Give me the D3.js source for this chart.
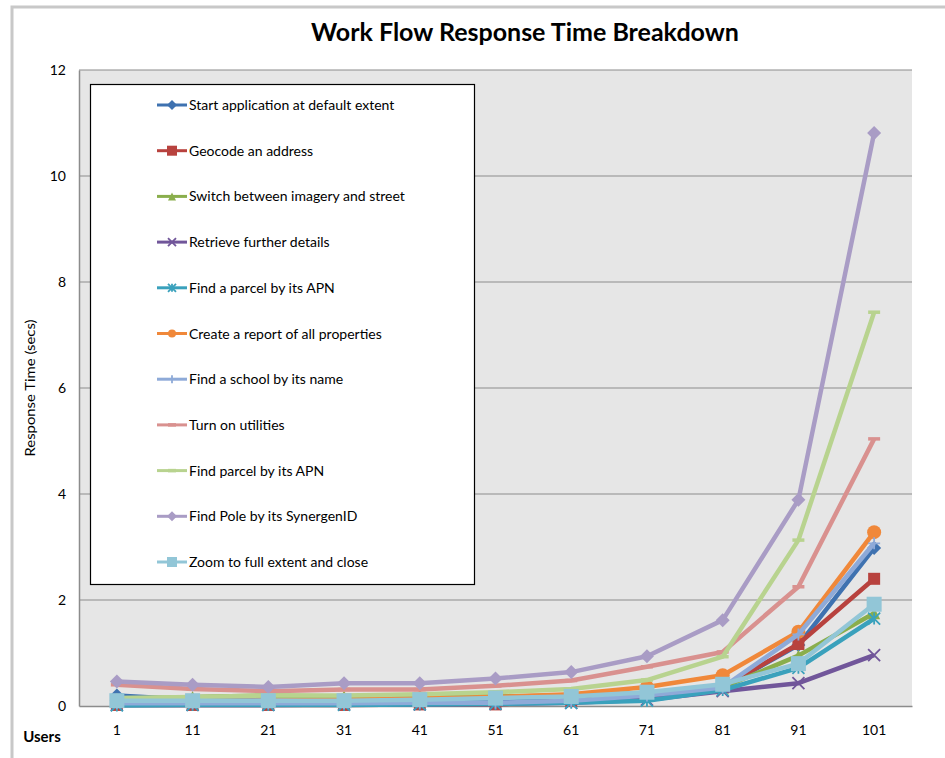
<!DOCTYPE html>
<html><head><meta charset="utf-8">
<script src="https://cdn.jsdelivr.net/npm/d3@7"></script>
<style>body{margin:0;background:#fff;} text{font-family:Lato,"Open Sans",sans-serif;}</style>
</head><body>
<svg id="chart" width="945" height="758"></svg>
<script>
const users = ["1","11","21","31","41","51","61","71","81","91","101"];
const seriesNames = [
  "Start application at default extent",
  "Geocode an address",
  "Switch between imagery and street",
  "Retrieve further details",
  "Find a parcel by its APN",
  "Create a report of all properties",
  "Find a school by its name",
  "Turn on utilities",
  "Find parcel by its APN",
  "Find Pole by its SynergenID",
  "Zoom to full extent and close"
];
const startApp   = [0.20, 0.12, 0.10, 0.09, 0.09, 0.08, 0.12, 0.20, 0.35, 1.15, 2.98];
const geocode    = [0.02, 0.02, 0.02, 0.02, 0.03, 0.03, 0.10, 0.20, 0.35, 1.17, 2.40];
const switchImg  = [0.13, 0.17, 0.20, 0.18, 0.20, 0.18, 0.20, 0.25, 0.35, 0.95, 1.75];
const retrieve   = [0.02, 0.02, 0.02, 0.03, 0.03, 0.04, 0.06, 0.12, 0.28, 0.43, 0.96];
const parcelAPN  = [0.01, 0.02, 0.02, 0.02, 0.03, 0.04, 0.06, 0.10, 0.30, 0.72, 1.65];
const report     = [0.10, 0.10, 0.10, 0.12, 0.14, 0.17, 0.22, 0.36, 0.58, 1.40, 3.28];
const school     = [0.05, 0.05, 0.05, 0.05, 0.06, 0.06, 0.10, 0.20, 0.35, 1.35, 3.07];
const utilities  = [0.40, 0.32, 0.28, 0.31, 0.31, 0.38, 0.48, 0.74, 1.02, 2.25, 5.04];
const parcelAPN2 = [0.15, 0.17, 0.20, 0.20, 0.22, 0.26, 0.32, 0.49, 0.93, 3.13, 7.43];
const pole       = [0.46, 0.40, 0.36, 0.43, 0.43, 0.52, 0.64, 0.94, 1.62, 3.89, 10.81];
const zoomFull   = [0.10, 0.10, 0.10, 0.10, 0.12, 0.15, 0.18, 0.26, 0.41, 0.80, 1.92];
const yTicks = [0, 2, 4, 6, 8, 10, 12];

const allValues = [startApp, geocode, switchImg, retrieve, parcelAPN, report, school, utilities, parcelAPN2, pole, zoomFull];
const colors = ["#3f72b0","#b8423e","#8aae4c","#71569a","#3aa1bc","#f0883a","#8eaad8","#d9918f","#b8d38f","#a99cc5","#92c6d7"];
const markers = ["diamond","square","triangle","x","asterisk","circle","plus","dash","dash","diamond","square"];

const series = seriesNames.map((n,i)=>({name:n, values:allValues[i], color:colors[i], marker:markers[i]}));

const svg = d3.select("#chart");
const L = 79, R = 912, T = 70, B = 706;

svg.append("path").attr("d","M12,758 L12,7 L945,7").attr("fill","none").attr("stroke","#c8c8c8").attr("stroke-width",3);

const x = d3.scaleBand().domain(users).range([L,R]).padding(0);
const y = d3.scaleLinear().domain([0,12]).range([B,T]);

svg.append("rect").attr("x",L).attr("y",T).attr("width",R-L).attr("height",B-T).attr("fill","#e6e6e6");

svg.append("g").selectAll("line").data(yTicks.filter(d=>d>0)).join("line")
  .attr("x1",L).attr("x2",R).attr("y1",d=>y(d)).attr("y2",d=>y(d))
  .attr("stroke","#8c8c8c").attr("stroke-width",1.2);

const yAxis = svg.append("g").attr("transform",`translate(${L},0)`)
  .call(d3.axisLeft(y).tickValues(yTicks).tickSize(0).tickPadding(13));
yAxis.select(".domain").attr("stroke","#8c8c8c").attr("stroke-width",1.5);
yAxis.selectAll("text").attr("font-size",14).attr("fill","#000");

const xAxis = svg.append("g").attr("transform",`translate(0,${B})`)
  .call(d3.axisBottom(x).tickSize(0).tickPadding(19));
xAxis.select(".domain").attr("stroke","#8c8c8c").attr("stroke-width",1.5);
xAxis.selectAll("text").attr("font-size",14).attr("fill","#000");

svg.append("text").attr("x",42).attr("y",742).attr("text-anchor","middle")
  .attr("font-size",15).attr("font-weight","bold").text("Users");
svg.append("text").attr("transform","translate(35,388) rotate(-90)").attr("text-anchor","middle")
  .attr("font-size",13.5).attr("textLength",137).attr("lengthAdjust","spacingAndGlyphs").text("Response Time (secs)");
svg.append("text").attr("x",525).attr("y",41).attr("text-anchor","middle")
  .attr("font-size",25).attr("font-weight","bold").text("Work Flow Response Time Breakdown");

function drawMarker(g, type, color, s){
  const h = s/2;
  switch(type){
    case "diamond": g.append("path").attr("d",`M0,${-h-1}L${h+1},0L0,${h+1}L${-h-1},0Z`).attr("fill",color); break;
    case "square": g.append("rect").attr("x",-h).attr("y",-h).attr("width",s).attr("height",s).attr("fill",color); break;
    case "triangle": g.append("path").attr("d",`M0,${-h}L${h},${h}L${-h},${h}Z`).attr("fill",color); break;
    case "circle": g.append("circle").attr("r",h).attr("fill",color); break;
    case "x": g.append("path").attr("d",`M${-h},${-h}L${h},${h}M${-h},${h}L${h},${-h}`).attr("stroke",color).attr("stroke-width",1.8); break;
    case "asterisk": g.append("path").attr("d",`M${-h},${-h}L${h},${h}M${-h},${h}L${h},${-h}M0,${-h}L0,${h}`).attr("stroke",color).attr("stroke-width",1.8); break;
    case "plus": g.append("path").attr("d",`M${-h},0L${h},0M0,${-h}L0,${h}`).attr("stroke",color).attr("stroke-width",1.8); break;
    case "dash": g.append("path").attr("d",`M${-h},0L${h},0`).attr("stroke",color).attr("stroke-width",3.5); break;
  }
}

const line = d3.line().x((d,i)=>x(users[i])+x.bandwidth()/2).y(d=>y(d));
const plot = svg.append("g");
series.forEach(s=>{
  const g = plot.append("g");
  g.append("path").attr("d",line(s.values)).attr("fill","none").attr("stroke",s.color).attr("stroke-width",4.5).attr("stroke-linejoin","round");
  s.values.forEach((v,i)=>{
    const mg = g.append("g").attr("transform",`translate(${x(users[i])+x.bandwidth()/2},${y(v)})`);
    let sz = 12;
    if (s.marker==="square" && s.name.startsWith("Zoom")) sz = 15;
    else if (s.marker==="circle") sz = 14;
    else if (s.marker==="diamond") sz = 12;
    drawMarker(mg, s.marker, s.color, sz);
  });
});

const leg = svg.append("g");
leg.append("rect").attr("x",90.5).attr("y",84.5).attr("width",384).attr("height",500)
  .attr("fill","#fff").attr("stroke","#000").attr("stroke-width",1.2);
const legY = d3.scalePoint().domain(seriesNames).range([105,562]);
series.forEach(s=>{
  const yy = legY(s.name);
  const g = leg.append("g");
  g.append("line").attr("x1",157).attr("x2",187).attr("y1",yy).attr("y2",yy).attr("stroke",s.color).attr("stroke-width",3);
  const mg = g.append("g").attr("transform",`translate(172,${yy})`);
  drawMarker(mg, s.marker, s.color, s.marker==="square"?10:8);
  g.append("text").attr("x",189).attr("y",yy+5).attr("font-size",14).text(s.name);
});
</script>
</body></html>
